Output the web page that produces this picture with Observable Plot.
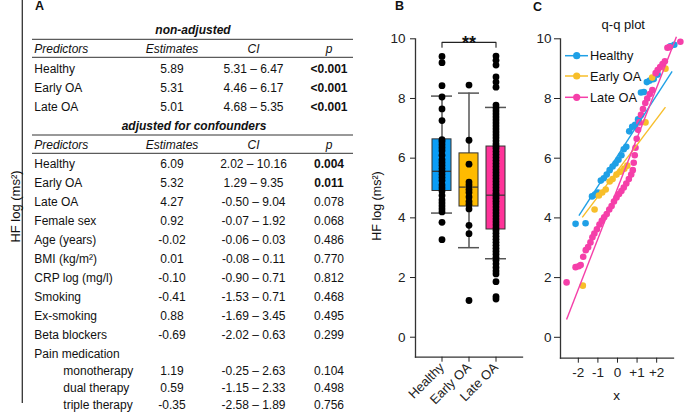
<!DOCTYPE html>
<html><head><meta charset="utf-8">
<script src="https://cdn.jsdelivr.net/npm/d3@7"></script>
<script src="https://cdn.jsdelivr.net/npm/@observablehq/plot@0.6"></script>
<style>
body{margin:0;background:#fff;}
#root{position:relative;width:685px;height:413px;overflow:hidden;background:#fff;}
</style></head><body><div id="root"></div>
<script>
// ---------- data ----------
const groups = ["Healthy", "Early OA", "Late OA"];
const boxColors = ["#0a9df7", "#ffbb00", "#ff3399"];
const qqColors = ["#1fa0e6", "#f7be2a", "#f53fa9"];

// box statistics
const boxQ1 = [4.90, 4.38, 3.61];
const boxMedian = [5.56, 5.03, 4.76];
const boxQ3 = [6.63, 6.16, 6.39];
const whiskerLow = [4.16, 3.00, 2.63];
const whiskerHigh = [8.08, 8.18, 7.70];

// individual values (panel B dots)
const healthyValues = [9.41, 9.20, 8.43, 8.05, 7.65, 7.26, 6.62, 6.55, 6.45, 6.35, 6.25, 6.10, 5.95, 5.85, 5.75, 5.65, 5.55, 5.45, 5.35, 5.25, 5.10, 5.00, 4.90, 4.75, 4.60, 4.50, 4.40, 4.30, 4.20, 3.85, 3.27];
const earlyValues = [8.45, 6.60, 5.80, 5.20, 5.10, 4.95, 4.85, 4.70, 4.55, 4.45, 4.30, 3.75, 3.47, 1.23];
const lateValues = [9.42, 9.28, 9.12, 8.72, 8.55, 8.38, 7.78, 7.68, 7.58, 7.48, 7.38, 7.28, 7.18, 7.08, 6.98, 6.88, 6.78, 6.68, 6.58, 6.48, 6.40, 6.32, 6.22, 6.12, 6.02, 5.92, 5.82, 5.72, 5.62, 5.52, 5.42, 5.32, 5.22, 5.12, 5.02, 4.92, 4.82, 4.74, 4.66, 4.56, 4.46, 4.36, 4.26, 4.16, 4.06, 3.96, 3.86, 3.76, 3.66, 3.58, 3.48, 3.38, 3.28, 3.18, 3.08, 2.98, 2.88, 2.78, 2.68, 2.58, 2.46, 2.34, 2.22, 2.12, 1.86, 1.36, 1.28];
const sigLabel = "**";
const sigY = 9.88, sigTickY = 9.72;

// q-q points (panel C), theoretical quantile x and sample y
const qqHealthyX = [-2.14, -1.63, -1.30, -1.15, -1.00, -0.85, -0.70, -0.55, -0.40, -0.25, -0.10, 0.05, 0.20, 0.32, 0.45, 0.60, 0.75, 0.90, 1.05, 1.20, 1.35, 1.50, 1.65, 1.85, 2.05, 2.70, 2.90];
const qqHealthyY = [3.80, 3.82, 4.72, 4.78, 4.85, 5.25, 5.33, 5.45, 5.60, 5.72, 5.82, 5.95, 6.10, 6.30, 6.38, 6.90, 7.05, 7.12, 7.30, 8.20, 8.22, 8.55, 8.60, 8.65, 8.80, 9.75, 9.80];
const qqEarlyX = [-1.77, -1.17, -0.95, -0.78, -0.60, -0.40, -0.25, -0.05, 0.15, 0.35, 0.50, 1.43, 1.77, 2.45];
const qqEarlyY = [1.73, 4.28, 4.75, 4.85, 4.95, 5.22, 5.30, 5.45, 5.55, 5.65, 5.75, 7.20, 8.70, 9.00];
const qqLateX = [-2.60, -2.14, -1.98, -1.88, -1.75, -1.62, -1.50, -1.38, -1.28, -1.18, -1.05, -0.92, -0.80, -0.68, -0.55, -0.42, -0.30, -0.18, -0.05, 0.08, 0.20, 0.32, 0.45, 0.58, 0.70, 0.78, 0.83, 0.88, 0.92, 0.98, 1.05, 1.12, 1.20, 1.30, 1.42, 1.52, 1.65, 1.78, 1.95, 2.05, 2.18, 2.30, 2.42, 2.55, 2.65, 3.21];
const qqLateY = [1.84, 2.35, 2.38, 2.42, 2.70, 2.92, 3.02, 3.18, 3.35, 3.48, 3.62, 3.78, 3.90, 4.02, 4.13, 4.28, 4.40, 4.55, 4.68, 4.80, 4.90, 5.02, 5.15, 5.30, 5.45, 5.60, 5.85, 6.10, 6.35, 6.65, 6.95, 7.20, 7.45, 7.65, 7.85, 8.00, 8.15, 8.28, 8.85, 8.95, 9.05, 9.15, 9.25, 9.70, 9.72, 9.90];
// q-q reference lines (start / end)
const qqLineX1 = [-1.97, -1.80, -2.60];
const qqLineY1 = [4.08, 4.02, 0.60];
const qqLineX2 = [2.79, 2.45, 3.01];
const qqLineY2 = [8.91, 7.71, 10.07];

const yTicks = [0, 2, 4, 6, 8, 10];
const qqXTicks = [-2, -1, 0, 1, 2];

// table (panel A)
const nonAdjPredictors = ["Healthy", "Early OA", "Late OA"];
const nonAdjEstimates = ["5.89", "5.31", "5.01"];
const nonAdjCI = ["5.31 – 6.47", "4.46 – 6.17", "4.68 – 5.35"];
const nonAdjP = ["<0.001", "<0.001", "<0.001"];
const adjPredictors = ["Healthy", "Early OA", "Late OA", "Female sex", "Age (years)", "BMI (kg/m²)", "CRP log (mg/l)", "Smoking", "Ex-smoking", "Beta blockers", "Pain medication", "monotherapy", "dual therapy", "triple therapy"];
const adjLevel = [0, 0, 0, 0, 0, 0, 0, 0, 0, 0, 0, 1, 1, 1];
const adjEstimates = ["6.09", "5.32", "4.27", "0.92", "-0.02", "0.01", "-0.10", "-0.41", "0.88", "-0.69", "", "1.19", "0.59", "-0.35"];
const adjCI = ["2.02 – 10.16", "1.29 – 9.35", "-0.50 – 9.04", "-0.07 – 1.92", "-0.06 – 0.03", "-0.08 – 0.11", "-0.90 – 0.71", "-1.53 – 0.71", "-1.69 – 3.45", "-2.02 – 0.63", "", "-0.25 – 2.63", "-1.15 – 2.33", "-2.58 – 1.89"];
const adjP = ["0.004", "0.011", "0.078", "0.068", "0.486", "0.770", "0.812", "0.468", "0.495", "0.299", "", "0.104", "0.498", "0.756"];
const headers = ["Predictors", "Estimates", "CI", "p"];
const section1 = "non-adjusted", section2 = "adjusted for confounders";
const yLabel = "HF log (ms²)";

// ---------- build ----------
const FONT = "'Liberation Sans', Arial, sans-serif";
const root = d3.select("#root");

// Panel B
const boxData = groups.map((g, i) => ({group: g, q1: boxQ1[i], med: boxMedian[i], q3: boxQ3[i], lo: whiskerLow[i], hi: whiskerHigh[i]}));
const dotData = [
  ...healthyValues.map(v => ({group: groups[0], v})),
  ...earlyValues.map(v => ({group: groups[1], v})),
  ...lateValues.map(v => ({group: groups[2], v}))
];
const bracket = [
  {group: groups[0], y: sigTickY}, {group: groups[0], y: sigY},
  {group: groups[2], y: sigY}, {group: groups[2], y: sigTickY}
];
const plotB = Plot.plot({
  width: 170, height: 413,
  marginLeft: 60, marginRight: 3, marginTop: 38.3, marginBottom: 56.3,
  style: {fontFamily: FONT, fontSize: "13.5px", color: "#222", background: "transparent", overflow: "visible"},
  x: {domain: groups, paddingInner: 0.3, paddingOuter: 0.63, label: null},
  y: {domain: [-0.67, 10], label: null},
  color: {domain: groups, range: boxColors},
  marks: [
    Plot.ruleX(boxData, {x: "group", y1: "lo", y2: "hi", stroke: "#555", strokeWidth: 1.5}),
    Plot.tickY(boxData, {x: "group", y: "lo", stroke: "#555", strokeWidth: 1.5, insetLeft: -1, insetRight: -1}),
    Plot.tickY(boxData, {x: "group", y: "hi", stroke: "#555", strokeWidth: 1.5, insetLeft: -1, insetRight: -1}),
    Plot.barY(boxData, {x: "group", y1: "q1", y2: "q3", fill: "group", stroke: "#333", strokeWidth: 1}),
    Plot.tickY(boxData, {x: "group", y: "med", stroke: "#333", strokeWidth: 1.2}),
    Plot.dot(dotData, {x: "group", y: "v", r: 3.4, fill: "#000", stroke: "none"}),
    Plot.line(bracket, {x: "group", y: "y", stroke: "#222", strokeWidth: 1.1}),
    Plot.text([sigLabel], {x: () => groups[1], y: () => sigY, text: d => d, fontSize: 18, fontWeight: "bold", lineAnchor: "bottom", dy: 7, fill: "#111"}),
    Plot.frame({anchor: "left", stroke: "#333", strokeWidth: 1.3}),
    Plot.frame({anchor: "bottom", stroke: "#333", strokeWidth: 1.3}),
    Plot.axisY({ticks: yTicks, tickSize: 5, tickPadding: 5, label: null}),
    Plot.axisX({tickRotate: -45, tickSize: 5, tickPadding: 3, fontSize: 13, label: null})
  ]
});
plotB.style.position = "absolute"; plotB.style.left = "355px"; plotB.style.top = "0px";
root.node().appendChild(plotB);

// Panel C
const qqPoints = [
  ...qqHealthyX.map((x, i) => ({group: groups[0], x, y: qqHealthyY[i]})),
  ...qqEarlyX.map((x, i) => ({group: groups[1], x, y: qqEarlyY[i]})),
  ...qqLateX.map((x, i) => ({group: groups[2], x, y: qqLateY[i]}))
];
const qqLines = groups.map((g, i) => ({group: g, x1: qqLineX1[i], y1: qqLineY1[i], x2: qqLineX2[i], y2: qqLineY2[i]}));
const plotC = Plot.plot({
  width: 165, height: 413,
  marginLeft: 40, marginRight: 12, marginTop: 38.3, marginBottom: 55.3,
  style: {fontFamily: FONT, fontSize: "13.5px", color: "#222", background: "transparent", overflow: "visible"},
  x: {domain: [-2.91, 2.86], label: null},
  y: {domain: [-0.7, 10], label: null},
  color: {domain: groups, range: qqColors},
  marks: [
    Plot.dot(qqPoints, {x: "x", y: "y", r: 3.3, fill: "group", stroke: "none"}),
    Plot.link(qqLines, {x1: "x1", y1: "y1", x2: "x2", y2: "y2", stroke: "group", strokeWidth: 1.4}),
    Plot.frame({anchor: "left", stroke: "#333", strokeWidth: 1.3}),
    Plot.frame({anchor: "bottom", stroke: "#333", strokeWidth: 1.3}),
    Plot.axisY({ticks: yTicks, tickSize: 6, tickPadding: 3, label: null}),
    Plot.axisX({ticks: qqXTicks, tickFormat: d => d > 0 ? "+" + d : String(d), tickSize: 5, tickPadding: 4, label: null})
  ]
});
plotC.style.position = "absolute"; plotC.style.left = "520px"; plotC.style.top = "0px";
root.node().appendChild(plotC);

// Overlay: table, titles, labels, legend
const ov = root.append("svg").attr("width", 685).attr("height", 413)
  .style("position", "absolute").style("left", "0px").style("top", "0px")
  .style("font-family", FONT).style("pointer-events", "none");
function txt(x, y, s, o = {}) {
  return ov.append("text").attr("x", x).attr("y", y)
    .attr("text-anchor", o.anchor || "start")
    .attr("font-size", o.size || 12)
    .attr("font-weight", o.weight || "normal")
    .attr("font-style", o.style || "normal")
    .attr("fill", o.fill || "#111")
    .attr("transform", o.transform || null)
    .text(s);
}
function hline(y) {
  ov.append("line").attr("x1", 32).attr("x2", 353).attr("y1", y).attr("y2", y).attr("stroke", "#333").attr("stroke-width", 1);
}
const colX = {pred: 34.3, indent: 63.3, est: 172, ci: 253.5, p: 329};
const isBold = p => p !== "" && (p.startsWith("<") || parseFloat(p) < 0.05);

// panel letters
txt(35, 10, "A", {weight: "bold", size: 12.5});
txt(395, 10, "B", {weight: "bold", size: 12.5});
txt(533, 10.5, "C", {weight: "bold", size: 12.5});

// vertical axis line of panel A + label
ov.append("line").attr("x1", 22.3).attr("x2", 22.3).attr("y1", 0).attr("y2", 403).attr("stroke", "#333").attr("stroke-width", 1.3);
txt(20, 206.5, yLabel, {anchor: "middle", size: 13, transform: "rotate(-90,20,206.5)"});
txt(380.5, 206, yLabel, {anchor: "middle", size: 12.5, transform: "rotate(-90,380.5,206)"});

function header(y) {
  txt(colX.pred, y, headers[0], {style: "italic"});
  txt(colX.est, y, headers[1], {style: "italic", anchor: "middle"});
  txt(colX.ci, y, headers[2], {style: "italic", anchor: "middle"});
  txt(colX.p, y, headers[3], {style: "italic", anchor: "middle"});
}
function row(y, name, est, ci, p, level) {
  txt(level ? colX.indent : colX.pred, y, name);
  txt(colX.est, y, est, {anchor: "middle"});
  txt(colX.ci, y, ci, {anchor: "middle"});
  txt(colX.p, y, p, {anchor: "middle", weight: isBold(p) ? "bold" : "normal"});
}
// non-adjusted
txt(193, 34.3, section1, {weight: "bold", style: "italic", anchor: "middle"});
hline(39.3);
header(53.3);
hline(57.3);
nonAdjPredictors.forEach((n, i) => row(72.7 + i * 19.2, n, nonAdjEstimates[i], nonAdjCI[i], nonAdjP[i], 0));
// adjusted
txt(194, 130, section2, {weight: "bold", style: "italic", anchor: "middle"});
hline(135);
header(149);
hline(153.3);
let yy = 167.7;
adjPredictors.forEach((n, i) => {
  if (i > 0) yy += adjLevel[i] ? 17 : 19;
  row(yy, n, adjEstimates[i], adjCI[i], adjP[i], adjLevel[i]);
});

// panel C title / x label
txt(623.3, 29, "q-q plot", {anchor: "middle", size: 13});
txt(616.7, 400, "x", {anchor: "middle", size: 13.5});

// legend in panel C
groups.forEach((g, i) => {
  const y = [55.7, 76, 97.3][i];
  ov.append("line").attr("x1", 565).attr("x2", 588).attr("y1", y).attr("y2", y).attr("stroke", qqColors[i]).attr("stroke-width", 1.5);
  ov.append("circle").attr("cx", 576.7).attr("cy", y).attr("r", 3.6).attr("fill", qqColors[i]);
  txt(590, y + 4.5, g, {size: 12.8});
});
</script>
</body></html>
